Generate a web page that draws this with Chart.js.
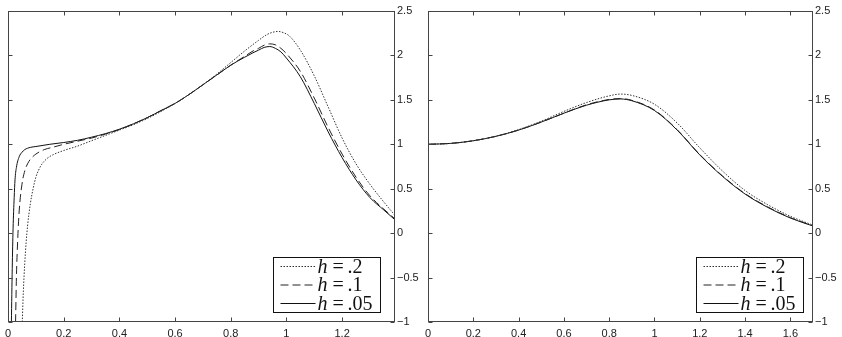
<!DOCTYPE html>
<html>
<head>
<meta charset="utf-8">
<script src="https://cdn.jsdelivr.net/npm/chart.js@4"></script>
<style>
  html, body { margin: 0; padding: 0; background: #fff; }
  #wrap { position: relative; width: 842px; height: 337px; }
  .panel { position: absolute; top: 0; height: 337px; }
  #leftPanel { left: 0; width: 420px; }
  #rightPanel { left: 420px; width: 422px; }
</style>
</head>
<body>
<div id="wrap">
  <div class="panel" id="leftPanel"><canvas id="leftChart"></canvas></div>
  <div class="panel" id="rightPanel"><canvas id="rightChart"></canvas></div>
</div>
<script>
// legend entries (h value shown after "h =")
const seriesNames = ['.2', '.1', '.05'];

// left panel
const leftDottedX = [0.051, 0.055, 0.06, 0.065, 0.07, 0.08, 0.09, 0.1, 0.11, 0.12, 0.14, 0.16, 0.2, 0.25, 0.3, 0.35, 0.4, 0.45, 0.5, 0.55, 0.6, 0.65, 0.7, 0.75, 0.8, 0.85, 0.9, 0.93, 0.95, 0.97, 0.99, 1.01, 1.05, 1.1, 1.15, 1.2, 1.25, 1.3, 1.35, 1.39];
const leftDottedY = [-1, -0.65, -0.34, -0.1, 0.08, 0.33, 0.5, 0.63, 0.71, 0.77, 0.84, 0.88, 0.93, 0.98, 1.04, 1.1, 1.16, 1.22, 1.29, 1.37, 1.46, 1.56, 1.67, 1.79, 1.92, 2.05, 2.17, 2.235, 2.26, 2.27, 2.255, 2.22, 2.06, 1.77, 1.42, 1.07, 0.78, 0.55, 0.35, 0.2];
const leftDashedX = [0.027, 0.03, 0.035, 0.04, 0.05, 0.06, 0.07, 0.08, 0.1, 0.13, 0.165, 0.2, 0.25, 0.3, 0.35, 0.4, 0.45, 0.5, 0.55, 0.6, 0.65, 0.7, 0.75, 0.8, 0.85, 0.88, 0.9, 0.92, 0.94, 0.96, 0.98, 1.0, 1.05, 1.1, 1.15, 1.2, 1.25, 1.3, 1.35, 1.39];
const leftDashedY = [-1, -0.5, -0.05, 0.25, 0.55, 0.7, 0.78, 0.83, 0.89, 0.94, 0.97, 1.0, 1.035, 1.07, 1.115, 1.165, 1.23, 1.3, 1.38, 1.46, 1.56, 1.67, 1.78, 1.89, 1.99, 2.05, 2.08, 2.115, 2.13, 2.12, 2.08, 2.02, 1.82, 1.52, 1.19, 0.89, 0.63, 0.42, 0.27, 0.16];
const leftSolidX = [0.012, 0.015, 0.018, 0.022, 0.025, 0.03, 0.04, 0.05, 0.06, 0.08, 0.1, 0.15, 0.2, 0.25, 0.3, 0.35, 0.4, 0.45, 0.5, 0.55, 0.6, 0.65, 0.7, 0.75, 0.8, 0.85, 0.88, 0.9, 0.92, 0.94, 0.96, 0.98, 1.0, 1.05, 1.1, 1.15, 1.2, 1.25, 1.3, 1.35, 1.39];
const leftSolidY = [-1, -0.4, 0.05, 0.4, 0.6, 0.74, 0.86, 0.91, 0.94, 0.965, 0.975, 1.0, 1.02, 1.045, 1.08, 1.12, 1.17, 1.23, 1.3, 1.38, 1.46, 1.56, 1.67, 1.78, 1.89, 1.98, 2.03, 2.06, 2.09, 2.1, 2.08, 2.04, 1.97, 1.76, 1.46, 1.14, 0.85, 0.6, 0.4, 0.26, 0.15];

// right panel
const rightX = [0, 0.1, 0.2, 0.3, 0.4, 0.5, 0.6, 0.7, 0.8, 0.85, 0.9, 1.0, 1.1, 1.2, 1.3, 1.4, 1.5, 1.6, 1.7];
const rightDotted = [1.0, 1.01, 1.04, 1.09, 1.165, 1.26, 1.37, 1.47, 1.545, 1.565, 1.55, 1.45, 1.24, 0.96, 0.7, 0.48, 0.32, 0.19, 0.09];
const rightDashed = [1.0, 1.01, 1.04, 1.09, 1.16, 1.25, 1.35, 1.445, 1.505, 1.515, 1.495, 1.385, 1.165, 0.885, 0.645, 0.445, 0.295, 0.175, 0.082];
const rightSolid = [1.0, 1.01, 1.04, 1.09, 1.16, 1.25, 1.35, 1.44, 1.5, 1.51, 1.49, 1.38, 1.16, 0.88, 0.64, 0.44, 0.29, 0.17, 0.08];

const yMin = -1, yMax = 2.5, yStep = 0.5;

const lineStyles = [
  { borderColor: '#333', borderDash: [1.5, 1.5], borderWidth: 1 },
  { borderColor: '#222', borderDash: [8, 4], borderWidth: 1 },
  { borderColor: '#111', borderDash: [], borderWidth: 1 }
];

function toPoints(xs, ys) {
  return xs.map((x, i) => ({ x: x, y: ys[i] }));
}

function fmt(v) {
  const s = String(+v.toFixed(2));
  return s.replace('-', '\u2212');
}

// box with inward tick marks, like the original axes
const framePlugin = {
  id: 'frame',
  afterDraw(chart) {
    const { ctx, chartArea: a, scales } = chart;
    const x = scales.x, y = scales.y;
    const L = Math.round(a.left) + 0.5, R = Math.round(a.right) - 0.5;
    const T = Math.round(a.top) + 0.5, B = Math.round(a.bottom) - 0.5;
    ctx.save();
    ctx.strokeStyle = '#444';
    ctx.lineWidth = 1;
    ctx.beginPath();
    x.ticks.forEach(t => {
      const px = Math.round(x.getPixelForValue(t.value)) + 0.5;
      ctx.moveTo(px, T); ctx.lineTo(px, T + 4);
      ctx.moveTo(px, B); ctx.lineTo(px, B - 4);
    });
    y.ticks.forEach(t => {
      const py = Math.round(y.getPixelForValue(t.value)) + 0.5;
      ctx.moveTo(L, py); ctx.lineTo(L + 4, py);
      ctx.moveTo(R, py); ctx.lineTo(R - 4, py);
    });
    ctx.stroke();
    ctx.strokeRect(L, T, R - L, B - T);
    ctx.restore();
  }
};

// legend box in the lower right corner
const boxLegendPlugin = {
  id: 'boxLegend',
  afterDraw(chart, args, opts) {
    const { ctx, chartArea: a } = chart;
    const w = 107, h = 55;
    const bx = Math.round(a.right - opts.right - w) + 0.5;
    const by = Math.round(a.bottom - opts.bottom - h) + 0.5;
    ctx.save();
    ctx.fillStyle = '#fff';
    ctx.fillRect(bx, by, w, h);
    ctx.strokeStyle = '#111';
    ctx.lineWidth = 1;
    ctx.strokeRect(bx, by, w, h);
    chart.data.datasets.forEach((ds, i) => {
      const cy = by + 9 + i * 18.5;
      ctx.beginPath();
      ctx.strokeStyle = ds.borderColor;
      ctx.lineWidth = ds.borderWidth;
      ctx.setLineDash(ds.borderDash);
      ctx.moveTo(bx + 7, cy);
      ctx.lineTo(bx + 42, cy);
      ctx.stroke();
      ctx.setLineDash([]);
      ctx.fillStyle = '#111';
      ctx.textBaseline = 'alphabetic';
      ctx.textAlign = 'left';
      ctx.font = 'italic 20px "Liberation Serif", "DejaVu Serif", serif';
      ctx.fillText('h', bx + 44, cy + 6);
      ctx.font = '20px "Liberation Serif", "DejaVu Serif", serif';
      ctx.fillText('=', bx + 59, cy + 6);
      ctx.fillText(seriesNames[i], bx + 74, cy + 6);
    });
    ctx.restore();
  }
};

function makeChart(canvasId, datasets, xMax, padLeft, yWidth, legendPos) {
  return new Chart(document.getElementById(canvasId), {
    type: 'line',
    data: {
      datasets: datasets.map((pts, i) => Object.assign({
        label: 'h = ' + seriesNames[i],
        data: pts,
        pointRadius: 0,
        fill: false,
        cubicInterpolationMode: 'monotone'
      }, lineStyles[i]))
    },
    options: {
      responsive: true,
      maintainAspectRatio: false,
      animation: false,
      events: [],
      layout: { padding: { left: padLeft, right: 0, top: 11, bottom: 0 } },
      scales: {
        x: {
          type: 'linear',
          min: 0,
          max: xMax,
          grid: { display: false, drawTicks: false },
          border: { display: false },
          afterFit(scale) { scale.height = 15; },
          ticks: {
            stepSize: 0.2,
            includeBounds: false,
            maxRotation: 0,
            padding: 5,
            color: '#222',
            font: { family: '"Liberation Sans", Arial, sans-serif', size: 11 },
            callback: v => fmt(v)
          }
        },
        y: {
          type: 'linear',
          position: 'right',
          min: yMin,
          max: yMax,
          grid: { display: false, drawTicks: false },
          border: { display: false },
          afterFit(scale) { scale.width = yWidth; },
          ticks: {
            stepSize: yStep,
            padding: 2,
            color: '#222',
            font: { family: '"Liberation Sans", Arial, sans-serif', size: 11 },
            callback: v => fmt(v)
          }
        }
      },
      plugins: {
        legend: { display: false },
        tooltip: { enabled: false },
        boxLegend: legendPos
      }
    },
    plugins: [framePlugin, boxLegendPlugin]
  });
}

makeChart('leftChart', [
  toPoints(leftDottedX, leftDottedY),
  toPoints(leftDashedX, leftDashedY),
  toPoints(leftSolidX, leftSolidY)
], 1.39, 4, 25, { right: 15, bottom: 10 });

makeChart('rightChart', [
  toPoints(rightX, rightDotted),
  toPoints(rightX, rightDashed),
  toPoints(rightX, rightSolid)
], 1.7, 2, 29, { right: 10, bottom: 10 });
</script>
</body>
</html>
